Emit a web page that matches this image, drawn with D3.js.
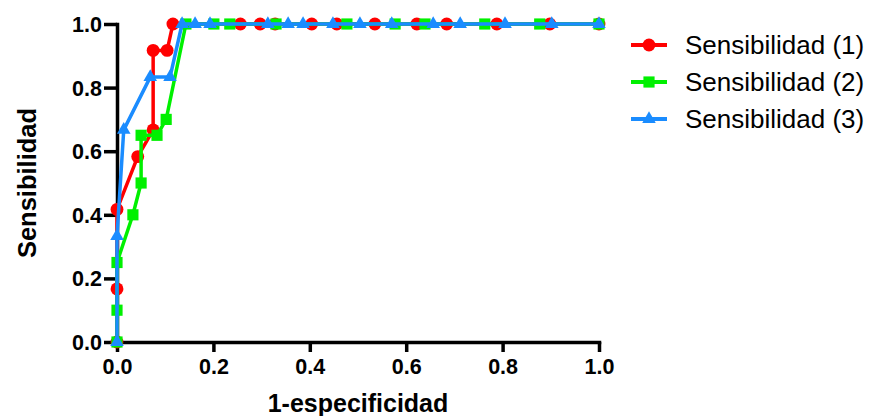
<!DOCTYPE html>
<html><head><meta charset="utf-8">
<script src="https://cdn.jsdelivr.net/npm/d3@7"></script>
<style>
body{margin:0;background:#fff;}
svg{display:block;font-family:"Liberation Sans",Arial,sans-serif;}
</style></head>
<body>
<svg id="chart" width="869" height="416"></svg>
<script>
const xTicks = [0, 0.2, 0.4, 0.6, 0.8, 1.0];
const yTicks = [0, 0.2, 0.4, 0.6, 0.8, 1.0];
const seriesNames = ["Sensibilidad (1)", "Sensibilidad (2)", "Sensibilidad (3)"];
const seriesColors = ["#ff0000", "#00f000", "#1a8cff"];
const seriesSymbols = ["circle", "square", "triangle"];

const sens1X = [0, 0, 0, 0.043, 0.075, 0.075, 0.104, 0.116, 0.256, 0.297, 0.328, 0.404, 0.456, 0.535, 0.622, 0.684, 0.788, 0.898, 1.0];
const sens1Y = [0, 0.167, 0.417, 0.583, 0.667, 0.917, 0.917, 1, 1, 1, 1, 1, 1, 1, 1, 1, 1, 1, 1];

const sens2X = [0, 0, 0, 0.033, 0.05, 0.05, 0.083, 0.102, 0.143, 0.201, 0.234, 0.330, 0.477, 0.577, 0.639, 0.763, 0.877, 1.0];
const sens2Y = [0, 0.1, 0.25, 0.4, 0.5, 0.65, 0.65, 0.7, 1, 1, 1, 1, 1, 1, 1, 1, 1, 1];

const sens3X = [0, 0, 0.014, 0.069, 0.11, 0.135, 0.162, 0.193, 0.313, 0.355, 0.386, 0.448, 0.504, 0.570, 0.656, 0.712, 0.805, 0.902, 1.0];
const sens3Y = [0, 0.333, 0.667, 0.833, 0.833, 1, 1, 1, 1, 1, 1, 1, 1, 1, 1, 1, 1, 1, 1];

const seriesX = [sens1X, sens2X, sens3X];
const seriesY = [sens1Y, sens2Y, sens3Y];

const svg = d3.select("#chart");
const x = d3.scaleLinear().domain([0, 1]).range([117, 599]);
const y = d3.scaleLinear().domain([0, 1]).range([342, 24]);

// axes
const xAxis = svg.append("g").attr("transform", "translate(0,342)")
  .call(d3.axisBottom(x).tickValues(xTicks).tickFormat(d3.format(".1f")).tickSize(10).tickSizeOuter(0).tickPadding(7));
const yAxis = svg.append("g").attr("transform", "translate(117,0)")
  .call(d3.axisLeft(y).tickValues(yTicks).tickFormat(d3.format(".1f")).tickSize(13).tickSizeOuter(0).tickPadding(2));
[xAxis, yAxis].forEach(a => {
  a.select(".domain").attr("stroke", "#000").attr("stroke-width", 3.5).attr("stroke-linecap", "square");
  a.selectAll(".tick line").attr("stroke", "#000").attr("stroke-width", 3.5);
  a.selectAll(".tick text").attr("fill", "#000").attr("font-size", 21.5).attr("font-weight", "bold")
    .attr("font-family", "Liberation Sans, Arial, sans-serif");
});
yAxis.selectAll(".tick text").attr("dy", "0.35em");

// axis titles
svg.append("text").attr("x", 358).attr("y", 412).attr("text-anchor", "middle")
  .attr("font-size", 25).attr("font-weight", "bold").text("1-especificidad");
svg.append("text").attr("transform", "translate(36,183) rotate(-90)").attr("text-anchor", "middle")
  .attr("font-size", 25.5).attr("font-weight", "bold").text("Sensibilidad");

const symType = {circle: d3.symbolCircle, square: d3.symbolSquare, triangle: d3.symbolTriangle};
const symSize = {circle: 130, square: 125, triangle: 80};

const line = d3.line().x(d => x(d[0])).y(d => y(d[1]));

seriesNames.forEach((name, i) => {
  const pts = seriesX[i].map((v, j) => [v, seriesY[i][j]]);
  const g = svg.append("g");
  g.append("path").datum(pts).attr("d", line).attr("fill", "none")
    .attr("stroke", seriesColors[i]).attr("stroke-width", 3.5).attr("stroke-linejoin", "round");
  g.selectAll("path.m").data(pts).join("path").attr("class", "m")
    .attr("transform", d => `translate(${x(d[0])},${y(d[1])})`)
    .attr("d", d3.symbol().type(symType[seriesSymbols[i]]).size(symSize[seriesSymbols[i]]))
    .attr("fill", seriesColors[i]);
});

// legend
seriesNames.forEach((name, i) => {
  const cy = 45 + i * 37;
  const g = svg.append("g");
  g.append("line").attr("x1", 631).attr("x2", 667).attr("y1", cy).attr("y2", cy)
    .attr("stroke", seriesColors[i]).attr("stroke-width", 4);
  g.append("path").attr("transform", `translate(649,${cy})`)
    .attr("d", d3.symbol().type(symType[seriesSymbols[i]]).size(symSize[seriesSymbols[i]]))
    .attr("fill", seriesColors[i]);
  g.append("text").attr("x", 685).attr("y", cy + 9).attr("font-size", 26).attr("fill", "#000").text(name);
});
</script>
</body></html>
